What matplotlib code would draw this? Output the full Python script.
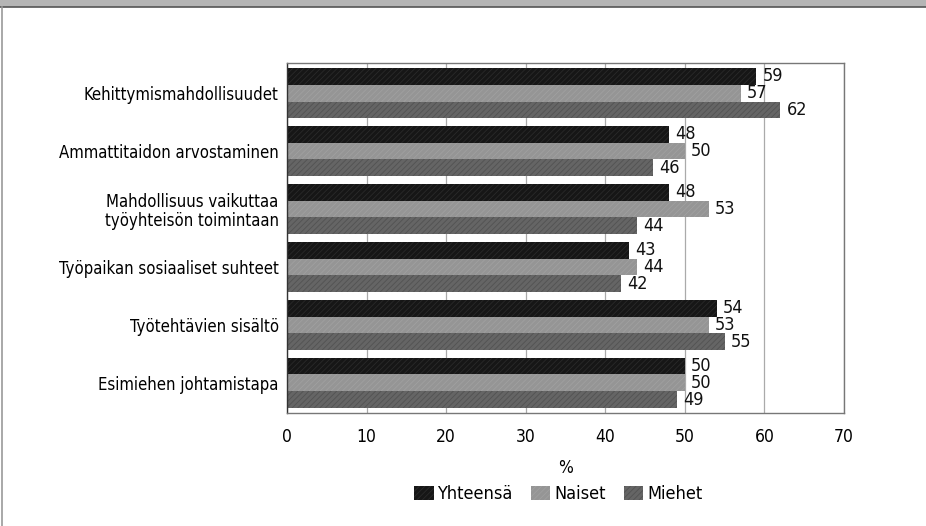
import matplotlib
matplotlib.use("Agg")
import matplotlib.pyplot as plt
import numpy as np
from matplotlib.patches import Rectangle
from matplotlib.lines import Line2D

categories = ["Kehittymismahdollisuudet", "Ammattitaidon arvostaminen",
              "Mahdollisuus vaikuttaa\ntyöyhteisön toimintaan",
              "Työpaikan sosiaaliset suhteet", "Työtehtävien sisältö",
              "Esimiehen johtamistapa"]
series_names = ["Yhteensä", "Naiset", "Miehet"]
yhteensa = [59, 48, 48, 43, 54, 50]
naiset = [57, 50, 53, 44, 53, 50]
miehet = [62, 46, 44, 42, 55, 49]
xticks = [0, 10, 20, 30, 40, 50, 60, 70]

plt.rcParams['font.family'] = ['DejaVu Sans']
plt.rcParams['font.stretch'] = 'condensed'
plt.rcParams['hatch.linewidth'] = 0.6

fig = plt.figure(figsize=(9.26, 5.26), dpi=100)
ax = fig.add_axes([287/926, 1-413/526, (844-287)/926, (413-63)/526])

FS = 12.5
n = len(categories)
y = np.arange(n)
h = 0.29
colors = ["#161616", "#959595", "#656565"]
hatch_cols = ["#2a2a2a", "#a0a0a0", "#525252"]
data = [yhteensa, naiset, miehet]
for i, (vals, c, hc, name) in enumerate(zip(data, colors, hatch_cols, series_names)):
    pos = y - h + i * h
    ax.barh(pos, vals, height=h, color=c, edgecolor=hc, hatch='//////',
            linewidth=0, label=name, zorder=2)
    for p, v in zip(pos, vals):
        ax.text(v + 0.8, p, str(v), va='center', ha='left', fontsize=FS + 0.5,
                color='#111111', zorder=3)

ax.set_xlim(0, 70)
ax.set_ylim(n - 0.5 + 0.02, -0.5 - 0.02)
ax.set_yticks(y)
ax.set_yticklabels(categories, fontsize=12, linespacing=1.05)
ax.set_xticks(xticks)
ax.set_xticklabels([str(t) for t in xticks], fontsize=FS)
ax.tick_params(axis='y', length=0, pad=6)
ax.tick_params(axis='x', length=0, pad=11)
ax.xaxis.grid(True, color='#aaaaaa', linewidth=0.9, zorder=0)
ax.set_axisbelow(True)
for s in ax.spines.values():
    s.set_color('#777777')
    s.set_linewidth(1.0)
ax.spines['left'].set_color('#333333')
ax.set_xlabel('%', fontsize=FS, labelpad=9)

fig.legend(loc='center', bbox_to_anchor=(558/926, 1-494/526), ncol=3,
           frameon=False, fontsize=13, handlelength=1.1, handleheight=0.8,
           handletextpad=0.2, columnspacing=1.0)

# page decoration: top band and left border
fig.patches.append(Rectangle((0, 1-7/526), 1, 7/526, transform=fig.transFigure,
                             facecolor='#b5b5b5', edgecolor='none'))
fig.lines.append(Line2D([0, 1], [1-7/526, 1-7/526], transform=fig.transFigure,
                        color='#555555', linewidth=1.2))
fig.lines.append(Line2D([2/926, 2/926], [0, 1-7/526], transform=fig.transFigure,
                        color='#999999', linewidth=1.2))

fig.savefig('out.png', dpi=100)
